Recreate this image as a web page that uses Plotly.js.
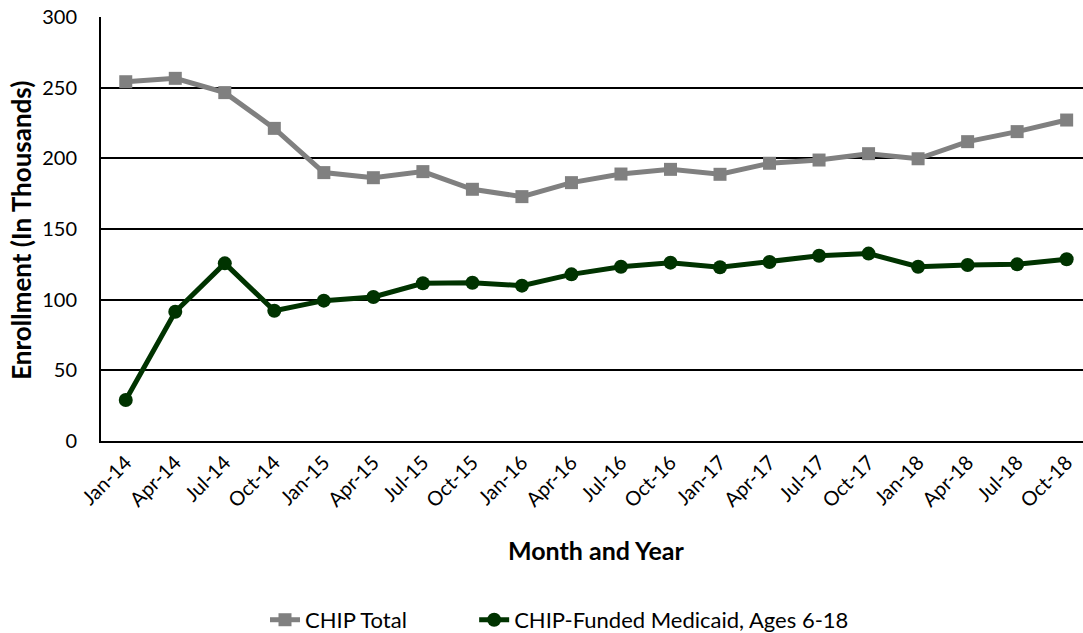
<!DOCTYPE html>
<html>
<head>
<meta charset="utf-8">
<script src="https://cdn.plot.ly/plotly-3.0.1.min.js"></script>
<style>html,body{margin:0;padding:0;background:#fff;overflow:hidden}#chart{width:1083px;height:660px}</style>
</head>
<body>
<div id="chart"></div>
<script>
const months = ["Jan-14","Apr-14","Jul-14","Oct-14","Jan-15","Apr-15","Jul-15","Oct-15","Jan-16","Apr-16","Jul-16","Oct-16","Jan-17","Apr-17","Jul-17","Oct-17","Jan-18","Apr-18","Jul-18","Oct-18"];
const chipTotal = [254.2,256.6,246.5,221.2,189.9,186.3,190.6,178.1,172.9,182.8,188.9,192.2,188.7,196.5,198.8,203.3,199.7,211.8,218.9,227.1];
const chipMedicaid = [29,91.5,125.7,92.2,99.3,101.9,111.6,112,109.9,117.9,123.3,126.2,122.9,126.6,131.1,132.6,123.3,124.5,125,128.6];
const yTicks = [0,50,100,150,200,250,300];
const xTitle = "Month and Year";
const yTitle = "Enrollment (In Thousands)";

const font = "Lato, 'Open Sans', sans-serif";
const traces = [
  {x: months, y: chipTotal, name: "CHIP Total", type: "scatter", mode: "lines+markers", legend: "legend",
   line: {color: "#808080", width: 5}, marker: {symbol: "square", size: 13, color: "#808080"}},
  {x: months, y: chipMedicaid, name: "CHIP-Funded Medicaid, Ages 6-18", type: "scatter", mode: "lines+markers", legend: "legend2",
   line: {color: "#003300", width: 5}, marker: {symbol: "circle", size: 14, color: "#003300"}}
];
const legFont = {family: font, size: 22, color: "#000"};
const layout = {
  width: 1083, height: 660,
  margin: {l: 101, r: 0, t: 17, b: 219},
  paper_bgcolor: "#fff", plot_bgcolor: "#fff",
  font: {family: font, color: "#000", size: 20},
  showlegend: true,
  legend: {orientation: "h", x: 0.167, xanchor: "left", y: -0.422, yanchor: "middle", font: legFont, bgcolor: "rgba(0,0,0,0)"},
  legend2: {orientation: "h", x: 0.380, xanchor: "left", y: -0.422, yanchor: "middle", font: legFont, bgcolor: "rgba(0,0,0,0)"},
  xaxis: {type: "category", range: [-0.5, 19.33], tickangle: -45, showgrid: false, automargin: false,
          showline: true, linecolor: "#000", linewidth: 2, ticks: "", zeroline: false,
          tickfont: {family: font, size: 20}},
  yaxis: {range: [0, 300], tickvals: yTicks, ticktext: yTicks.map(String), showgrid: true, automargin: false,
          gridcolor: "#000", gridwidth: 2, showline: true, linecolor: "#000", linewidth: 2,
          zeroline: false, ticks: "", ticklabelstandoff: 18,
          tickfont: {family: font, size: 20}},
  annotations: [
    {text: "<b>" + xTitle + "</b>", xref: "paper", yref: "paper", x: 0.504, y: -0.257,
     xanchor: "center", yanchor: "middle", showarrow: false, font: {family: font, size: 25, color: "#000"}},
    {text: "<b>" + yTitle + "</b>", xref: "paper", yref: "paper", x: -0.0815, y: 0.498, textangle: -90,
     xanchor: "center", yanchor: "middle", showarrow: false, font: {family: font, size: 26, color: "#000"}}
  ]
};
Plotly.newPlot("chart", traces, layout, {staticPlot: true, displayModeBar: false});
</script>
</body>
</html>
